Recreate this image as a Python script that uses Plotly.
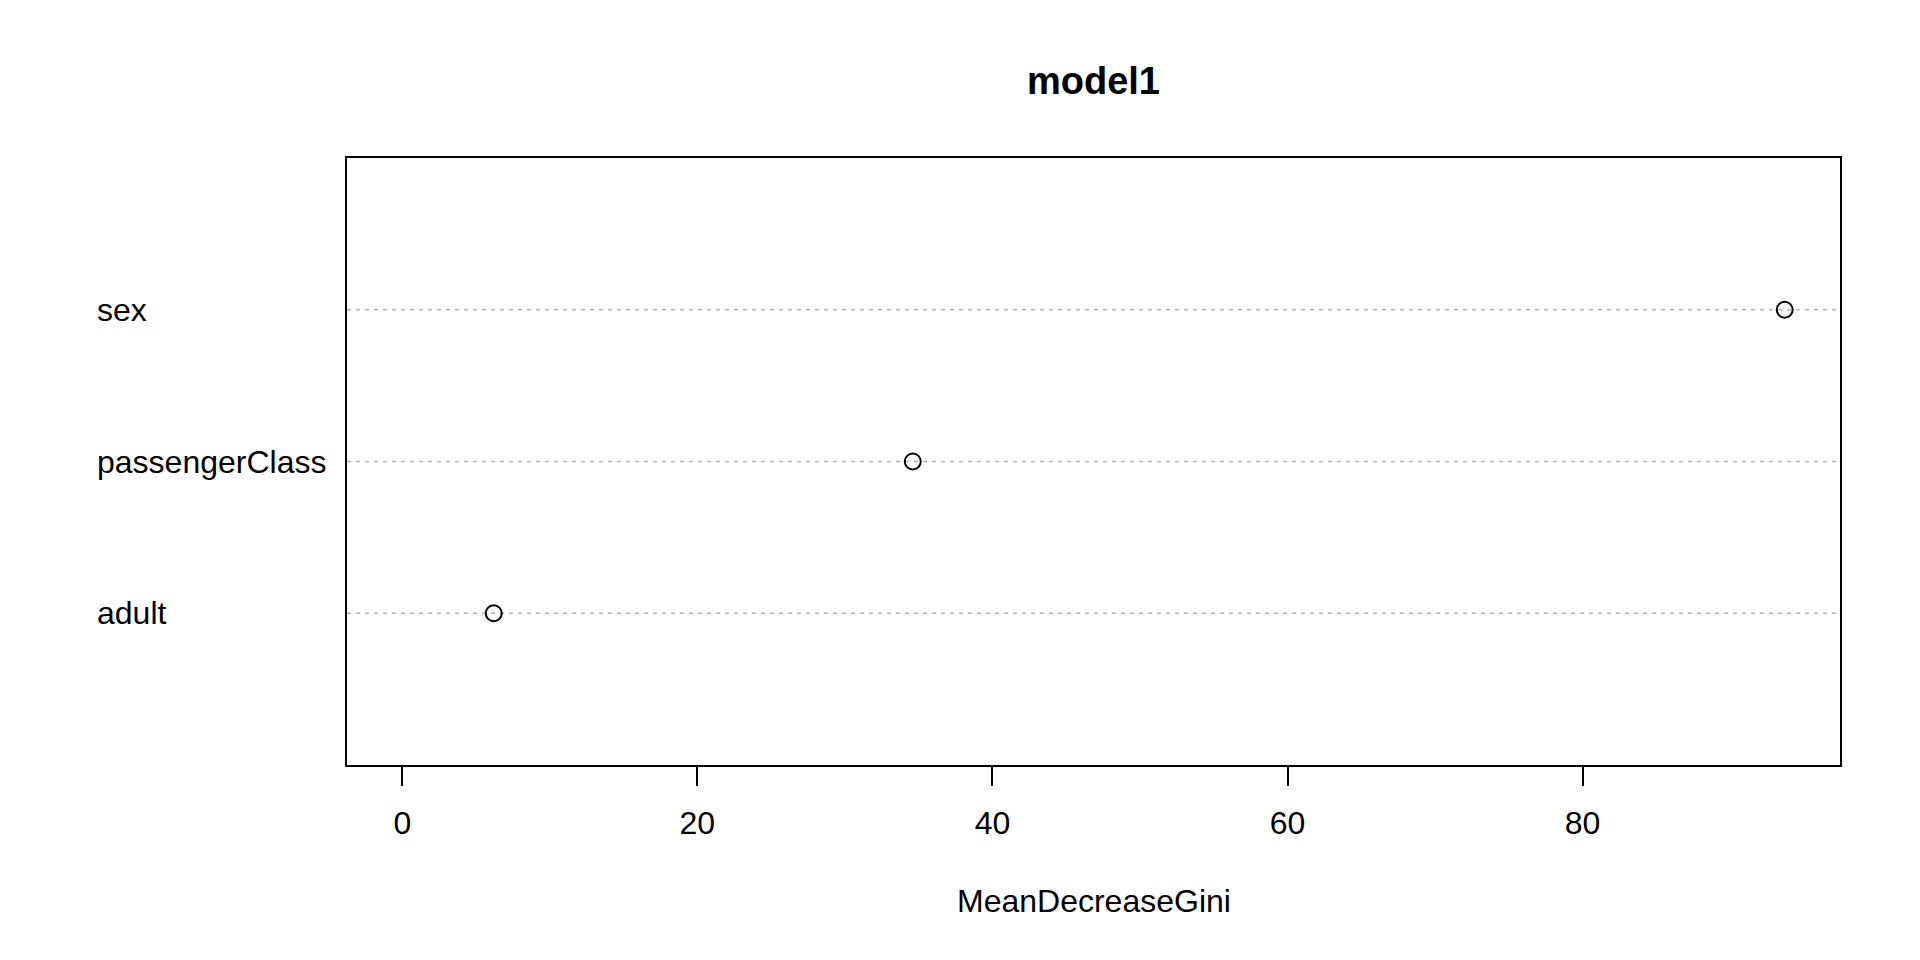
import plotly.graph_objects as go

variables = ["adult", "passengerClass", "sex"]
mean_decrease_gini = [6.2, 34.6, 93.7]
x_ticks = [0, 20, 40, 60, 80]
title_text = "model1"
x_label = "MeanDecreaseGini"

FONT = "Liberation Sans, Arial, Helvetica, sans-serif"
positions = list(range(1, len(variables) + 1))

xmax = max(mean_decrease_gini)
xmin = min(0, min(mean_decrease_gini))
pad = (xmax - xmin) * 0.04

# page has a body margin, so figure coords = image coords - 8
W, H = 1912, 952
L, T, R, B = 339, 150, 80, 195
plot_w = W - L - R
plot_h = H - T - B

fig = go.Figure()

shapes = []
for p in positions:
    shapes.append(dict(type="line", xref="paper", x0=0, x1=1, yref="y", y0=p, y1=p,
                       line=dict(color="#b4b4b4", width=1.3, dash="4px,5px"), layer="below"))

fig.add_trace(go.Scatter(
    x=mean_decrease_gini, y=positions, mode="markers",
    marker=dict(symbol="circle-open", size=16, color="black", line=dict(width=2, color="black")),
    hoverinfo="x", showlegend=False))

annotations = []
for v, p in zip(variables, positions):
    annotations.append(dict(text=v, xref="paper", yref="y", x=(94.5 - 8 - L) / plot_w, y=p,
                            xanchor="left", yanchor="middle", showarrow=False,
                            font=dict(family=FONT, size=32, color="black")))
annotations.append(dict(text=x_label, xref="paper", yref="paper", x=0.5,
                        y=((H - B) - (901 - 8)) / plot_h,
                        xanchor="center", yanchor="middle", showarrow=False,
                        font=dict(family=FONT, size=32, color="black")))

fig.update_layout(
    width=W, height=H,
    paper_bgcolor="white", plot_bgcolor="white",
    margin=dict(l=L, r=R, t=T, b=B),
    title=dict(text="<b>" + title_text + "</b>", x=0.5, xref="paper", y=1 - (80.8 - 8) / H,
               yref="container", xanchor="center", yanchor="middle",
               font=dict(family=FONT, size=38, color="black")),
    shapes=shapes,
    annotations=annotations,
    xaxis=dict(range=[xmin - pad, xmax + pad], tickvals=x_ticks, ticktext=[str(t) for t in x_ticks],
               showgrid=False, zeroline=False, showline=True, linecolor="black", linewidth=1.5,
               mirror=True, ticks="outside", ticklen=19, tickwidth=1.5, tickcolor="black",
               ticklabelstandoff=10,
               tickfont=dict(family=FONT, size=32, color="black")),
    yaxis=dict(range=[0, len(variables) + 1], showticklabels=False, showgrid=False, zeroline=False,
               showline=True, linecolor="black", linewidth=1.5, mirror=True, ticks=""),
)

fig.write_html("out.html")
